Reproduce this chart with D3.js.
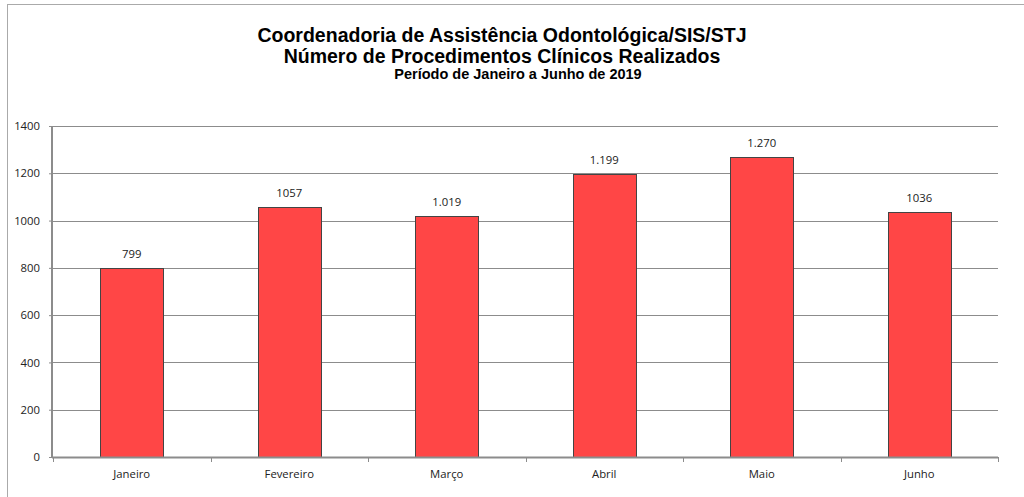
<!DOCTYPE html>
<html>
<head>
<meta charset="utf-8">
<script src="https://cdn.jsdelivr.net/npm/d3@7"></script>
<style>
  body { margin: 0; background: #fff; }
  svg { display: block; }
  .title { font-family: "Liberation Sans", Arial, sans-serif; font-weight: bold; fill: #000; }
  .lbl { font-family: "Open Sans", "Noto Sans", sans-serif; font-size: 11.3px; fill: #222; }
</style>
</head>
<body>
<svg id="chart" width="1024" height="497"></svg>
<script>
var months = ['Janeiro', 'Fevereiro', 'Março', 'Abril', 'Maio', 'Junho'];
var values = [799, 1057, 1019, 1199, 1270, 1036];
var valueLabels = ['799', '1057', '1.019', '1.199', '1.270', '1036'];
var yTicks = [0, 200, 400, 600, 800, 1000, 1200, 1400];
var titleLines = [
  'Coordenadoria de Assistência Odontológica/SIS/STJ',
  'Número de Procedimentos Clínicos Realizados',
  'Período de Janeiro a Junho de 2019'
];

var svg = d3.select('#chart');
var margin = {left: 53, right: 26, top: 126, bottom: 40};
var width = 1024 - margin.left - margin.right;
var height = 497 - margin.top - margin.bottom;

// outer frame
svg.append('rect')
    .attr('x', 7.5).attr('y', 4.5)
    .attr('width', 1030).attr('height', 500)
    .attr('fill', 'none')
    .attr('stroke', '#aaa');

// titles
var titleX = [502, 502, 518];
var titleY = [42, 63, 79];
var titleSize = [19.5, 19.5, 14.5];
svg.selectAll('text.title')
  .data(titleLines)
  .enter().append('text')
    .attr('class', 'title')
    .attr('x', function(d, i) { return titleX[i]; })
    .attr('y', function(d, i) { return titleY[i]; })
    .attr('text-anchor', 'middle')
    .style('font-size', function(d, i) { return titleSize[i] + 'px'; })
    .text(function(d) { return d; });

var g = svg.append('g')
    .attr('transform', 'translate(' + margin.left + ',' + margin.top + ')');

var x = d3.scaleBand().domain(months).range([0, width]).paddingInner(0).paddingOuter(0);
var y = d3.scaleLinear().domain([0, 1400]).range([height, 0]);

// gridlines
g.append('g').selectAll('line')
  .data(yTicks.filter(function(d) { return d > 0; }))
  .enter().append('line')
    .attr('x1', 0).attr('x2', width)
    .attr('y1', function(d) { return Math.round(y(d)) + 0.5; })
    .attr('y2', function(d) { return Math.round(y(d)) + 0.5; })
    .attr('stroke', '#8c8c8c');

// y axis
var yAxis = g.append('g')
    .call(d3.axisLeft(y).tickValues(yTicks).tickSize(4).tickPadding(9).tickFormat(d3.format('d')));
yAxis.select('.domain').attr('stroke', '#8c8c8c').attr('stroke-width', 2).attr('d', 'M-1,0V' + height);
yAxis.selectAll('.tick line').attr('stroke', '#8c8c8c');
yAxis.selectAll('.tick text').attr('class', 'lbl').attr('fill', '#222');

// bars
var barW = x.bandwidth() * 0.4;
g.append('g').selectAll('rect')
  .data(values)
  .enter().append('rect')
    .attr('x', function(d, i) { return Math.round(x(months[i]) + (x.bandwidth() - barW) / 2) + 0.5; })
    .attr('y', function(d) { return Math.round(y(d)) + 0.5; })
    .attr('width', Math.round(barW))
    .attr('height', function(d) { return height - Math.round(y(d)); })
    .attr('fill', '#ff4646')
    .attr('stroke', '#444')
    .attr('stroke-width', 1);

// value labels
g.append('g').selectAll('text')
  .data(values)
  .enter().append('text')
    .attr('class', 'lbl')
    .attr('x', function(d, i) { return x(months[i]) + x.bandwidth() / 2; })
    .attr('y', function(d) { return y(d) - 10; })
    .attr('text-anchor', 'middle')
    .text(function(d, i) { return valueLabels[i]; });

// x axis
var boundaries = d3.range(months.length + 1).map(function(i) { return i * x.step(); });
g.append('line')
    .attr('x1', -1).attr('x2', width)
    .attr('y1', height + 0.5).attr('y2', height + 0.5)
    .attr('stroke', '#8c8c8c').attr('stroke-width', 2);
g.append('g').selectAll('line')
  .data(boundaries)
  .enter().append('line')
    .attr('x1', function(d) { return Math.round(d) + 0.5; })
    .attr('x2', function(d) { return Math.round(d) + 0.5; })
    .attr('y1', height).attr('y2', height + 5)
    .attr('stroke', '#8c8c8c');
g.append('g').selectAll('text')
  .data(months)
  .enter().append('text')
    .attr('class', 'lbl')
    .attr('x', function(d) { return x(d) + x.bandwidth() / 2; })
    .attr('y', height + 21)
    .attr('text-anchor', 'middle')
    .text(function(d) { return d; });
</script>
</body>
</html>
